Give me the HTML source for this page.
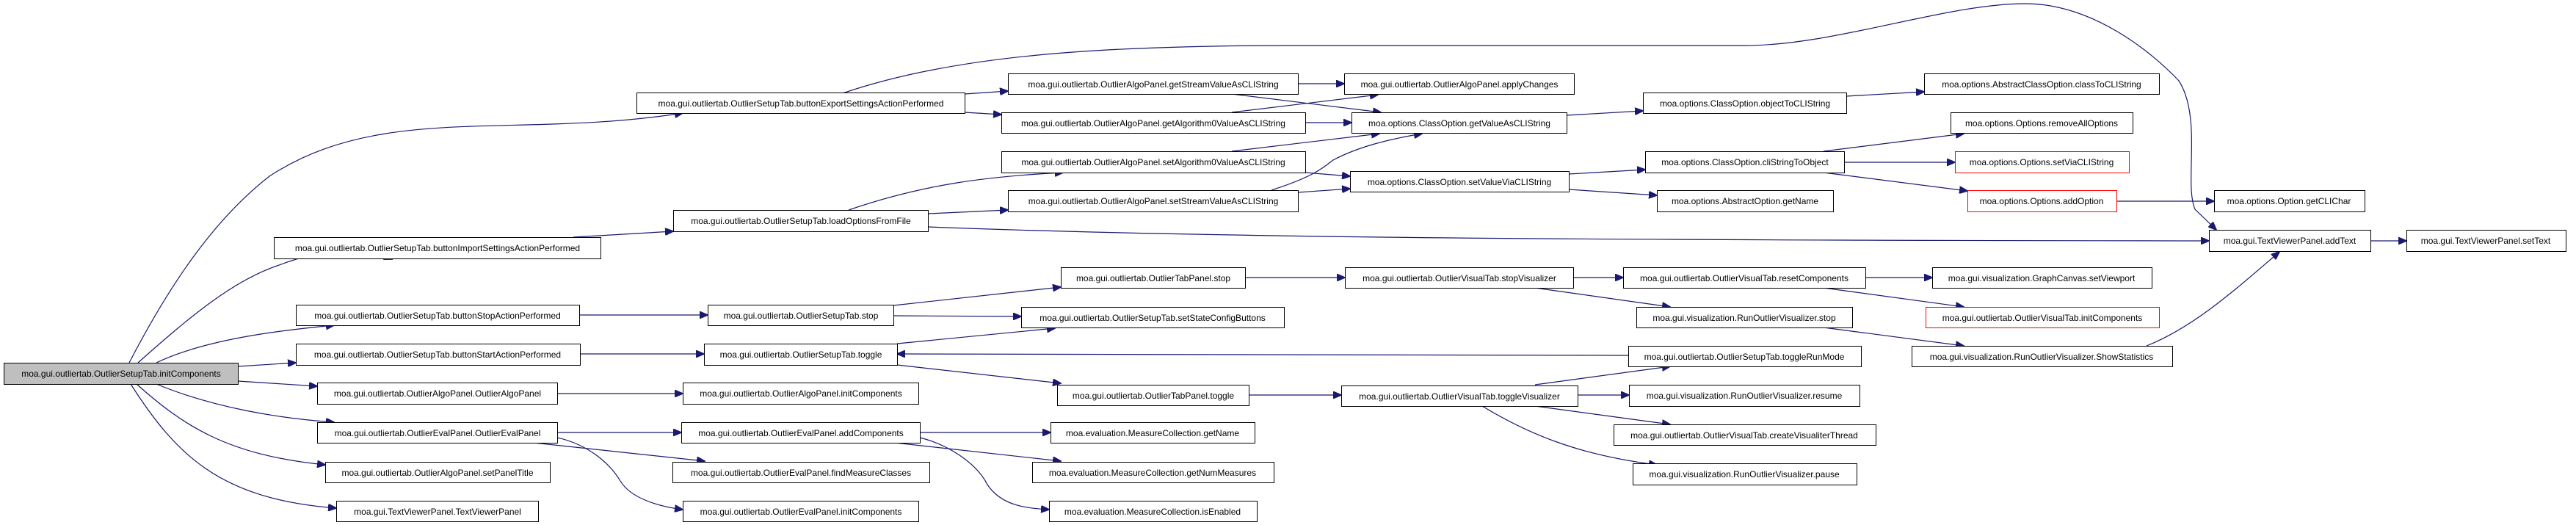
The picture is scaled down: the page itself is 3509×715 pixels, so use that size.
<!DOCTYPE html>
<html><head><meta charset="utf-8"><style>
html,body{margin:0;padding:0;background:#fff;}
svg{display:block;}
text{font-family:"Liberation Sans",Arial,sans-serif;font-size:12px;fill:#000;}
.e{fill:none;stroke:#191970;stroke-width:1.2;}
</style></head><body>
<svg width="3509" height="715" viewBox="0 0 3509 715" xmlns="http://www.w3.org/2000/svg">
<defs>
<marker id="a" markerWidth="12" markerHeight="10" refX="11" refY="5" orient="auto" markerUnits="userSpaceOnUse">
<path d="M0,0 L12,5 L0,10 Z" fill="#191970" stroke="#191970"/>
</marker>
</defs>
<g marker-end="url(#a)">
<!-- from initComponents -->
<path class="e" d="M176,494 C230,390 290,300 367,240 C520,140 700,190 930,154"/>
<path class="e" d="M188,494 C260,430 320,380 383,360 C430,342 490,335 534,353" transform=""/>
<path class="e" d="M213,494 C280,462 380,450 455,443"/>
<path class="e" d="M324,499 L403,494"/>
<path class="e" d="M324,519 L432,526"/>
<path class="e" d="M213,523 C290,555 380,570 455,575"/>
<path class="e" d="M186,523 C250,580 310,620 443,633"/>
<path class="e" d="M178,523 C240,620 300,680 458,692"/>
<!-- buttonExport -->
<path class="e" d="M1314,128 L1373,124"/>
<path class="e" d="M1314,153 L1364,156"/>
<path class="e" d="M1148,127 C1300,75 1500,62 1762,62 L2377,62 C2500,62 2650,5 2759,5 C2850,5 2930,70 2968,110 C3000,160 2975,250 2990,285 L3019,313"/>
<!-- import -->
<path class="e" d="M781,323 L917,315"/>
<!-- loadOptions -->
<path class="e" d="M1156,286 C1260,250 1350,240 1448,235"/>
<path class="e" d="M1264,291 L1373,286"/>
<path class="e" d="M1264,309 C1700,326 2300,327 3009,328"/>
<!-- getStream -->
<path class="e" d="M1768,114 L1831,114"/>
<path class="e" d="M1678,128 L1881,153"/>
<!-- getAlgorithm0 -->
<path class="e" d="M1678,153 L1877,129"/>
<path class="e" d="M1778,167 L1841,167"/>
<!-- setAlgorithm0 -->
<path class="e" d="M1678,206 L1879,182"/>
<path class="e" d="M1778,235 L1839,240"/>
<!-- setStream -->
<path class="e" d="M1732,259 C1790,240 1800,230 1816,218 C1850,200 1890,190 1937,182"/>
<path class="e" d="M1768,262 L1839,257"/>
<!-- ClassOption -->
<path class="e" d="M2134,157 L2238,151"/>
<path class="e" d="M2515,131 L2621,125"/>
<path class="e" d="M2137,237 L2241,231"/>
<path class="e" d="M2137,258 L2257,266"/>
<path class="e" d="M2484,206 L2675,182"/>
<path class="e" d="M2512,221 L2663,221"/>
<path class="e" d="M2484,235 L2680,260"/>
<path class="e" d="M2883,274 L3016,274"/>
<path class="e" d="M3229,328 L3278,328"/>
<!-- stop / toggle -->
<path class="e" d="M1217,416 L1445,391"/>
<path class="e" d="M1217,430 L1391,431"/>
<path class="e" d="M1222,468 L1437,447"/>
<path class="e" d="M1222,497 L1445,522"/>
<path class="e" d="M789,429 L964,429"/>
<path class="e" d="M790,482 L959,482"/>
<path class="e" d="M759,536 L930,536"/>
<path class="e" d="M759,589 L928,589"/>
<path class="e" d="M727,603 L960,628"/>
<path class="e" d="M759,596 C800,605 830,630 845,655 C860,680 900,690 930,694"/>
<path class="e" d="M1253,589 L1431,589"/>
<path class="e" d="M1219,603 L1445,628"/>
<path class="e" d="M1253,596 C1290,605 1330,630 1345,660 C1365,690 1400,692 1429,694"/>
<path class="e" d="M1696,378 L1832,378"/>
<path class="e" d="M2143,378 L2211,378"/>
<path class="e" d="M2091,392 L2275,418"/>
<path class="e" d="M2541,378 L2632,378"/>
<path class="e" d="M2484,392 L2675,418"/>
<path class="e" d="M2484,446 L2675,471"/>
<path class="e" d="M2924,471 C2990,445 3050,390 3105,343"/>
<path class="e" d="M2218,484 L1222,482"/>
<path class="e" d="M1701,538 L1827,538"/>
<path class="e" d="M2091,524 L2275,499"/>
<path class="e" d="M2149,538 L2219,538"/>
<path class="e" d="M2091,553 L2275,578"/>
<path class="e" d="M2019,553 C2080,590 2150,620 2257,633"/>
</g>
<g id="nodes">
<g stroke="#000" stroke-width="1" fill="#fff">
<rect x="5.5" y="494.5" width="319" height="29" fill="#bfbfbf"/>
<rect x="867.5" y="126.5" width="447" height="28"/>
<rect x="373.5" y="323.5" width="445" height="29"/>
<rect x="917.5" y="286.5" width="347" height="29"/>
<rect x="403.5" y="415.5" width="386" height="28"/>
<rect x="964.5" y="415.5" width="253" height="28"/>
<rect x="403.5" y="468.5" width="387" height="29"/>
<rect x="959.5" y="468.5" width="263" height="29"/>
<rect x="432.5" y="521.5" width="327" height="29"/>
<rect x="930.5" y="521.5" width="321" height="29"/>
<rect x="432.5" y="575.5" width="327" height="28"/>
<rect x="928.5" y="575.5" width="325" height="28"/>
<rect x="443.5" y="629.5" width="306" height="28"/>
<rect x="916.5" y="629.5" width="350" height="28"/>
<rect x="458.5" y="682.5" width="275" height="28"/>
<rect x="930.5" y="682.5" width="321" height="28"/>
<rect x="1373.5" y="100.5" width="395" height="28"/>
<rect x="1831.5" y="100.5" width="313" height="28"/>
<rect x="1364.5" y="153.5" width="414" height="28"/>
<rect x="1841.5" y="153.5" width="293" height="28"/>
<rect x="2238.5" y="126.5" width="277" height="28"/>
<rect x="1364.5" y="206.5" width="414" height="29"/>
<rect x="1839.5" y="233.5" width="298" height="28"/>
<rect x="2241.5" y="206.5" width="271" height="29"/>
<rect x="1373.5" y="259.5" width="395" height="29"/>
<rect x="2257.5" y="259.5" width="240" height="29"/>
<rect x="1445.5" y="364.5" width="251" height="28"/>
<rect x="1832.5" y="364.5" width="311" height="28"/>
<rect x="2211.5" y="364.5" width="330" height="28"/>
<rect x="1391.5" y="418.5" width="358" height="28"/>
<rect x="2229.5" y="418.5" width="294" height="28"/>
<rect x="2218.5" y="471.5" width="317" height="28"/>
<rect x="1440.5" y="524.5" width="261" height="28"/>
<rect x="1827.5" y="525.5" width="322" height="28"/>
<rect x="2219.5" y="524.5" width="314" height="29"/>
<rect x="2198.5" y="578.5" width="357" height="28"/>
<rect x="1431.5" y="575.5" width="278" height="28"/>
<rect x="1406.5" y="629.5" width="329" height="28"/>
<rect x="2224.5" y="631.5" width="305" height="29"/>
<rect x="1429.5" y="682.5" width="283" height="28"/>
<rect x="2621.5" y="100.5" width="320" height="28"/>
<rect x="2657.5" y="153.5" width="248" height="28"/>
<rect x="2663.5" y="206.5" width="237" height="29" stroke="#f00"/>
<rect x="2680.5" y="259.5" width="203" height="29" stroke="#f00"/>
<rect x="3016.5" y="259.5" width="205" height="29"/>
<rect x="3009.5" y="313.5" width="220" height="29"/>
<rect x="3278.5" y="313.5" width="217" height="29"/>
<rect x="2632.5" y="364.5" width="299" height="28"/>
<rect x="2623.5" y="418.5" width="318" height="28" stroke="#f00"/>
<rect x="2604.5" y="471.5" width="355" height="28"/>
</g>
<g text-anchor="middle">
<text x="165" y="513">moa.gui.outliertab.OutlierSetupTab.initComponents</text>
<text x="1091" y="145">moa.gui.outliertab.OutlierSetupTab.buttonExportSettingsActionPerformed</text>
<text x="596" y="342">moa.gui.outliertab.OutlierSetupTab.buttonImportSettingsActionPerformed</text>
<text x="1091" y="305">moa.gui.outliertab.OutlierSetupTab.loadOptionsFromFile</text>
<text x="596" y="434">moa.gui.outliertab.OutlierSetupTab.buttonStopActionPerformed</text>
<text x="1091" y="434">moa.gui.outliertab.OutlierSetupTab.stop</text>
<text x="596" y="487">moa.gui.outliertab.OutlierSetupTab.buttonStartActionPerformed</text>
<text x="1091" y="487">moa.gui.outliertab.OutlierSetupTab.toggle</text>
<text x="596" y="540">moa.gui.outliertab.OutlierAlgoPanel.OutlierAlgoPanel</text>
<text x="1091" y="540">moa.gui.outliertab.OutlierAlgoPanel.initComponents</text>
<text x="596" y="594">moa.gui.outliertab.OutlierEvalPanel.OutlierEvalPanel</text>
<text x="1091" y="594">moa.gui.outliertab.OutlierEvalPanel.addComponents</text>
<text x="596" y="648">moa.gui.outliertab.OutlierAlgoPanel.setPanelTitle</text>
<text x="1091" y="648">moa.gui.outliertab.OutlierEvalPanel.findMeasureClasses</text>
<text x="596" y="701">moa.gui.TextViewerPanel.TextViewerPanel</text>
<text x="1091" y="701">moa.gui.outliertab.OutlierEvalPanel.initComponents</text>
<text x="1571" y="119">moa.gui.outliertab.OutlierAlgoPanel.getStreamValueAsCLIString</text>
<text x="1988" y="119">moa.gui.outliertab.OutlierAlgoPanel.applyChanges</text>
<text x="1571" y="172">moa.gui.outliertab.OutlierAlgoPanel.getAlgorithm0ValueAsCLIString</text>
<text x="1988" y="172">moa.options.ClassOption.getValueAsCLIString</text>
<text x="2377" y="145">moa.options.ClassOption.objectToCLIString</text>
<text x="1571" y="225">moa.gui.outliertab.OutlierAlgoPanel.setAlgorithm0ValueAsCLIString</text>
<text x="1988" y="252">moa.options.ClassOption.setValueViaCLIString</text>
<text x="2377" y="225">moa.options.ClassOption.cliStringToObject</text>
<text x="1571" y="278">moa.gui.outliertab.OutlierAlgoPanel.setStreamValueAsCLIString</text>
<text x="2377" y="278">moa.options.AbstractOption.getName</text>
<text x="1571" y="383">moa.gui.outliertab.OutlierTabPanel.stop</text>
<text x="1988" y="383">moa.gui.outliertab.OutlierVisualTab.stopVisualizer</text>
<text x="2376" y="383">moa.gui.outliertab.OutlierVisualTab.resetComponents</text>
<text x="1570" y="437">moa.gui.outliertab.OutlierSetupTab.setStateConfigButtons</text>
<text x="2376" y="437">moa.gui.visualization.RunOutlierVisualizer.stop</text>
<text x="2376" y="490">moa.gui.outliertab.OutlierSetupTab.toggleRunMode</text>
<text x="1571" y="543">moa.gui.outliertab.OutlierTabPanel.toggle</text>
<text x="1988" y="544">moa.gui.outliertab.OutlierVisualTab.toggleVisualizer</text>
<text x="2376" y="543">moa.gui.visualization.RunOutlierVisualizer.resume</text>
<text x="2376" y="597">moa.gui.outliertab.OutlierVisualTab.createVisualiterThread</text>
<text x="1570" y="594">moa.evaluation.MeasureCollection.getName</text>
<text x="1570" y="648">moa.evaluation.MeasureCollection.getNumMeasures</text>
<text x="2376" y="650">moa.gui.visualization.RunOutlierVisualizer.pause</text>
<text x="1570" y="701">moa.evaluation.MeasureCollection.isEnabled</text>
<text x="2781" y="119">moa.options.AbstractClassOption.classToCLIString</text>
<text x="2781" y="172">moa.options.Options.removeAllOptions</text>
<text x="2781" y="225" fill="#000">moa.options.Options.setViaCLIString</text>
<text x="2781" y="278">moa.options.Options.addOption</text>
<text x="3118" y="278">moa.options.Option.getCLIChar</text>
<text x="3119" y="332">moa.gui.TextViewerPanel.addText</text>
<text x="3386" y="332">moa.gui.TextViewerPanel.setText</text>
<text x="2781" y="383">moa.gui.visualization.GraphCanvas.setViewport</text>
<text x="2782" y="437">moa.gui.outliertab.OutlierVisualTab.initComponents</text>
<text x="2781" y="490">moa.gui.visualization.RunOutlierVisualizer.ShowStatistics</text>
</g>
</g>
</svg>
</body></html>
